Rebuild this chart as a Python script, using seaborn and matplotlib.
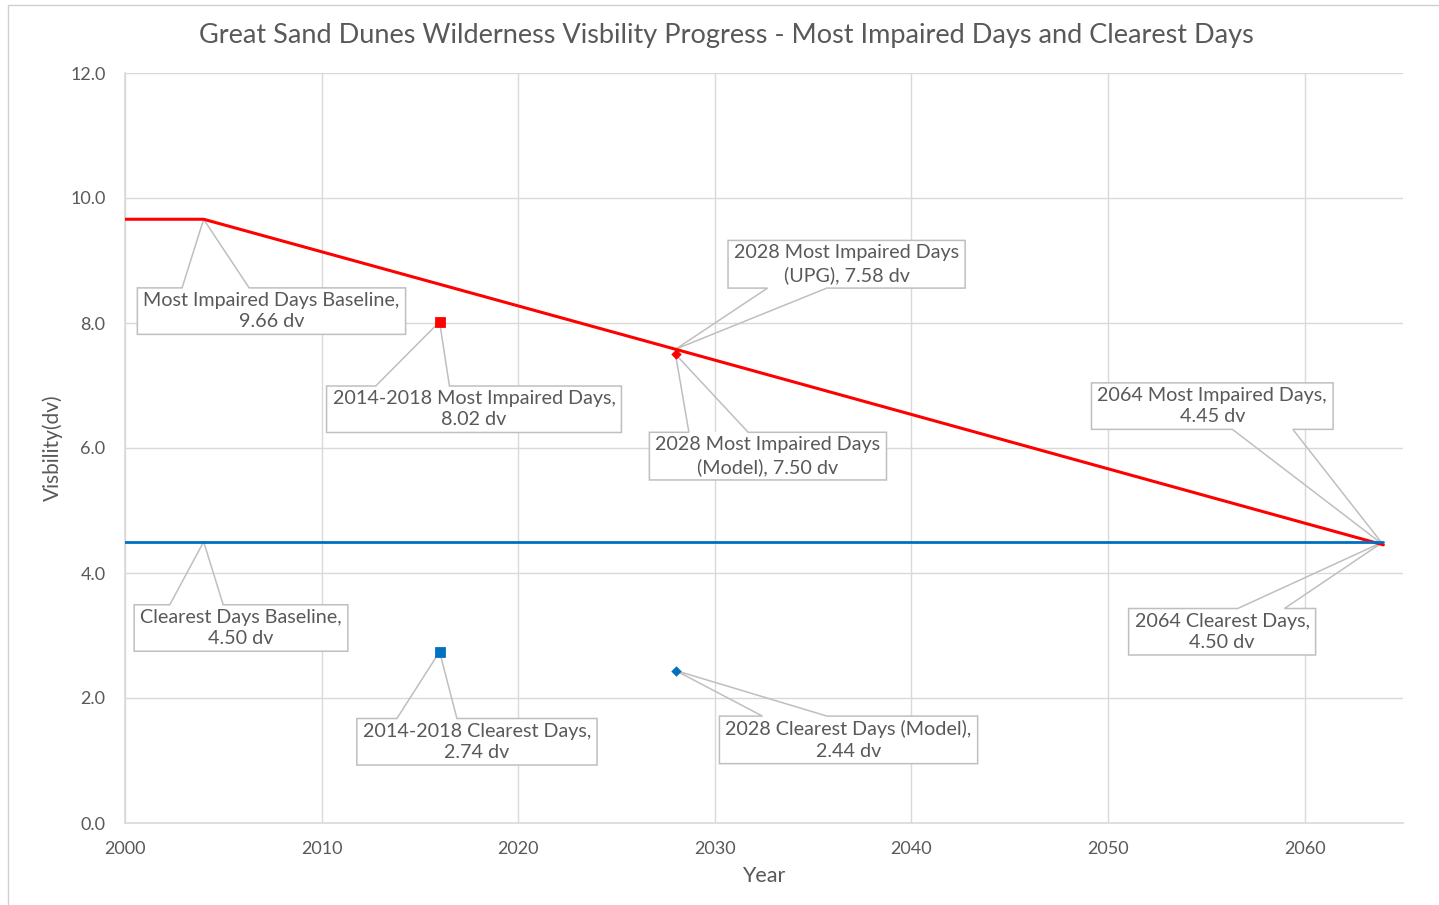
import matplotlib
matplotlib.use("Agg")
import matplotlib.pyplot as plt
from matplotlib.patches import Rectangle, Polygon
import seaborn as sns
import pandas as pd
import numpy as np

# ---- data ----
glide_years = [2000, 2004, 2028, 2064]
glide_impaired = [9.66, 9.66, 7.58, 4.45]
clear_years = [2000, 2004, 2064]
clear_values = [4.50, 4.50, 4.50]
recent_year = [2016]
recent_impaired = [8.02]
recent_clear = [2.74]
model_year = [2028]
model_impaired = [7.50]
model_clear = [2.44]

title = "Great Sand Dunes Wilderness Visbility Progress - Most Impaired Days and Clearest Days"
x_label = "Year"
y_label = "Visbility(dv)"
x_ticks = [2000, 2010, 2020, 2030, 2040, 2050, 2060]
y_ticks = [0, 2, 4, 6, 8, 10, 12]

# callouts: (text, point x, point y, label x, label y)
callouts = [
    ("Most Impaired Days Baseline,\n9.66 dv", 2004, 9.66, 2007.45, 8.19),
    ("2014-2018 Most Impaired Days,\n8.02 dv", 2016, 8.02, 2017.75, 6.62),
    ("2028 Most Impaired Days\n(UPG), 7.58 dv", 2028, 7.58, 2036.7, 8.94),
    ("2028 Most Impaired Days\n(Model), 7.50 dv", 2028, 7.50, 2032.7, 5.87),
    ("2064 Most Impaired Days,\n4.45 dv", 2064, 4.45, 2055.3, 6.67),
    ("2064 Clearest Days,\n4.50 dv", 2064, 4.50, 2055.8, 3.06),
    ("Clearest Days Baseline,\n4.50 dv", 2004, 4.50, 2005.9, 3.12),
    ("2014-2018 Clearest Days,\n2.74 dv", 2016, 2.74, 2017.9, 1.30),
    ("2028 Clearest Days (Model),\n2.44 dv", 2028, 2.44, 2036.8, 1.33),
]

RED = "#FF0000"
BLUE = "#0070C0"
GRAY_TXT = "#595959"
GRID = "#D9D9D9"
BOX = "#BFBFBF"

sns.set_theme(style="white")
plt.rcParams["font.family"] = ["Lato", "DejaVu Sans"]

fig = plt.figure(figsize=(14.39, 9.05), dpi=100)
ax = fig.add_axes([125 / 1439, 1 - 823 / 905, (1403 - 125) / 1439, (823 - 73) / 905])

# outer frame
fig.patches.append(Rectangle((8 / 1439, -0.1), 1.2, 1 - 5 / 905 + 0.1, transform=fig.transFigure,
                             fill=False, ec="#D0D0D0", lw=1.0))

df_glide = pd.DataFrame({"year": glide_years, "dv": glide_impaired})
df_clear = pd.DataFrame({"year": clear_years, "dv": clear_values})
sns.lineplot(data=df_glide, x="year", y="dv", color=RED, lw=2.2, ax=ax, zorder=5.7)
sns.lineplot(data=df_clear, x="year", y="dv", color=BLUE, lw=2.0, ax=ax, zorder=5.7)

sns.scatterplot(x=recent_year, y=recent_impaired, marker="s", color=RED, s=50, edgecolor=RED, ax=ax, zorder=5.8)
sns.scatterplot(x=recent_year, y=recent_clear, marker="s", color=BLUE, s=50, edgecolor=BLUE, ax=ax, zorder=5.8)
sns.scatterplot(x=model_year, y=model_impaired, marker="D", color=RED, s=24, edgecolor=RED, ax=ax, zorder=5.8)
sns.scatterplot(x=model_year, y=model_clear, marker="D", color=BLUE, s=24, edgecolor=BLUE, ax=ax, zorder=5.8)

ax.set_xlim(2000, 2065)
ax.set_ylim(0, 12)
ax.set_xticks(x_ticks)
ax.set_yticks(y_ticks)
ax.set_yticklabels([f"{v:.1f}" for v in y_ticks])
ax.grid(True, color=GRID, lw=1.0, zorder=0)
ax.set_axisbelow(True)
for s in ["top", "right"]:
    ax.spines[s].set_visible(False)
for s in ["left", "bottom"]:
    ax.spines[s].set_color(GRID)
    ax.spines[s].set_linewidth(1.2)
ax.tick_params(axis="both", length=0, labelsize=13, labelcolor=GRAY_TXT)
ax.tick_params(axis="y", pad=14)
ax.tick_params(axis="x", pad=13)

ax.set_xlabel(x_label, fontsize=15.5, color=GRAY_TXT)
ax.set_ylabel(y_label, fontsize=15, color=GRAY_TXT)
ax.xaxis.set_label_coords(0.5, -0.0707)
ax.yaxis.set_label_coords(-0.0565, 0.5)
ax.yaxis.label.set_va("center")
ax.xaxis.label.set_va("center")
fig.text(726 / 1439, 1 - 36 / 905, title, ha="center", va="center", fontsize=19.5, color=GRAY_TXT)

texts = []
for text, px, py, tx, ty in callouts:
    t = ax.text(tx, ty, text, ha="center", va="center", fontsize=14.2, color=GRAY_TXT,
                linespacing=1.32, zorder=6)
    texts.append((t, px, py))

fig.canvas.draw()
renderer = fig.canvas.get_renderer()
inv = ax.transData.inverted()
PADX, PADY = 6, 4
for t, px, py in texts:
    bb = t.get_window_extent(renderer)
    l, r = bb.x0 - PADX, bb.x1 + PADX
    b, tp = bb.y0 - PADY, bb.y1 + PADY
    w, h = r - l, tp - b
    cx, cy = (l + r) / 2, (b + tp) / 2
    tipx, tipy = ax.transData.transform((px, py))
    dx = tipx - cx
    dy_down = -(tipy - cy)
    dq = dx * h / w
    TL, TR, BR, BL = (l, tp), (r, tp), (r, b), (l, b)
    tip = (tipx, tipy)
    if abs(dy_down) > abs(dq):
        f1, f2 = (7 / 12, 10 / 12) if dx > 0 else (2 / 12, 5 / 12)
        x1, x2 = l + w * f1, l + w * f2
        if dy_down > 0:  # tip below -> bottom edge
            pts = [TL, TR, BR, (x2, b), tip, (x1, b), BL]
        else:
            pts = [TL, (x1, tp), tip, (x2, tp), TR, BR, BL]
    else:
        g1, g2 = (7 / 12, 10 / 12) if dy_down > 0 else (2 / 12, 5 / 12)
        y1, y2 = tp - h * g1, tp - h * g2
        if dx > 0:
            pts = [TL, TR, (r, y1), tip, (r, y2), BR, BL]
        else:
            pts = [TL, TR, BR, BL, (l, y2), tip, (l, y1)]
    data_pts = inv.transform(np.array(pts))
    box_data = inv.transform(np.array([[l, b], [r, tp]]))
    ax.add_patch(Rectangle(tuple(box_data[0]), box_data[1][0] - box_data[0][0],
                           box_data[1][1] - box_data[0][1], fc="white", ec="none", zorder=5))
    ax.add_patch(Polygon(data_pts, closed=True, fc="none", ec=BOX, lw=1.1, zorder=5.5,
                         joinstyle="miter", clip_on=False))

fig.savefig("out.png", dpi=100, facecolor="white")
